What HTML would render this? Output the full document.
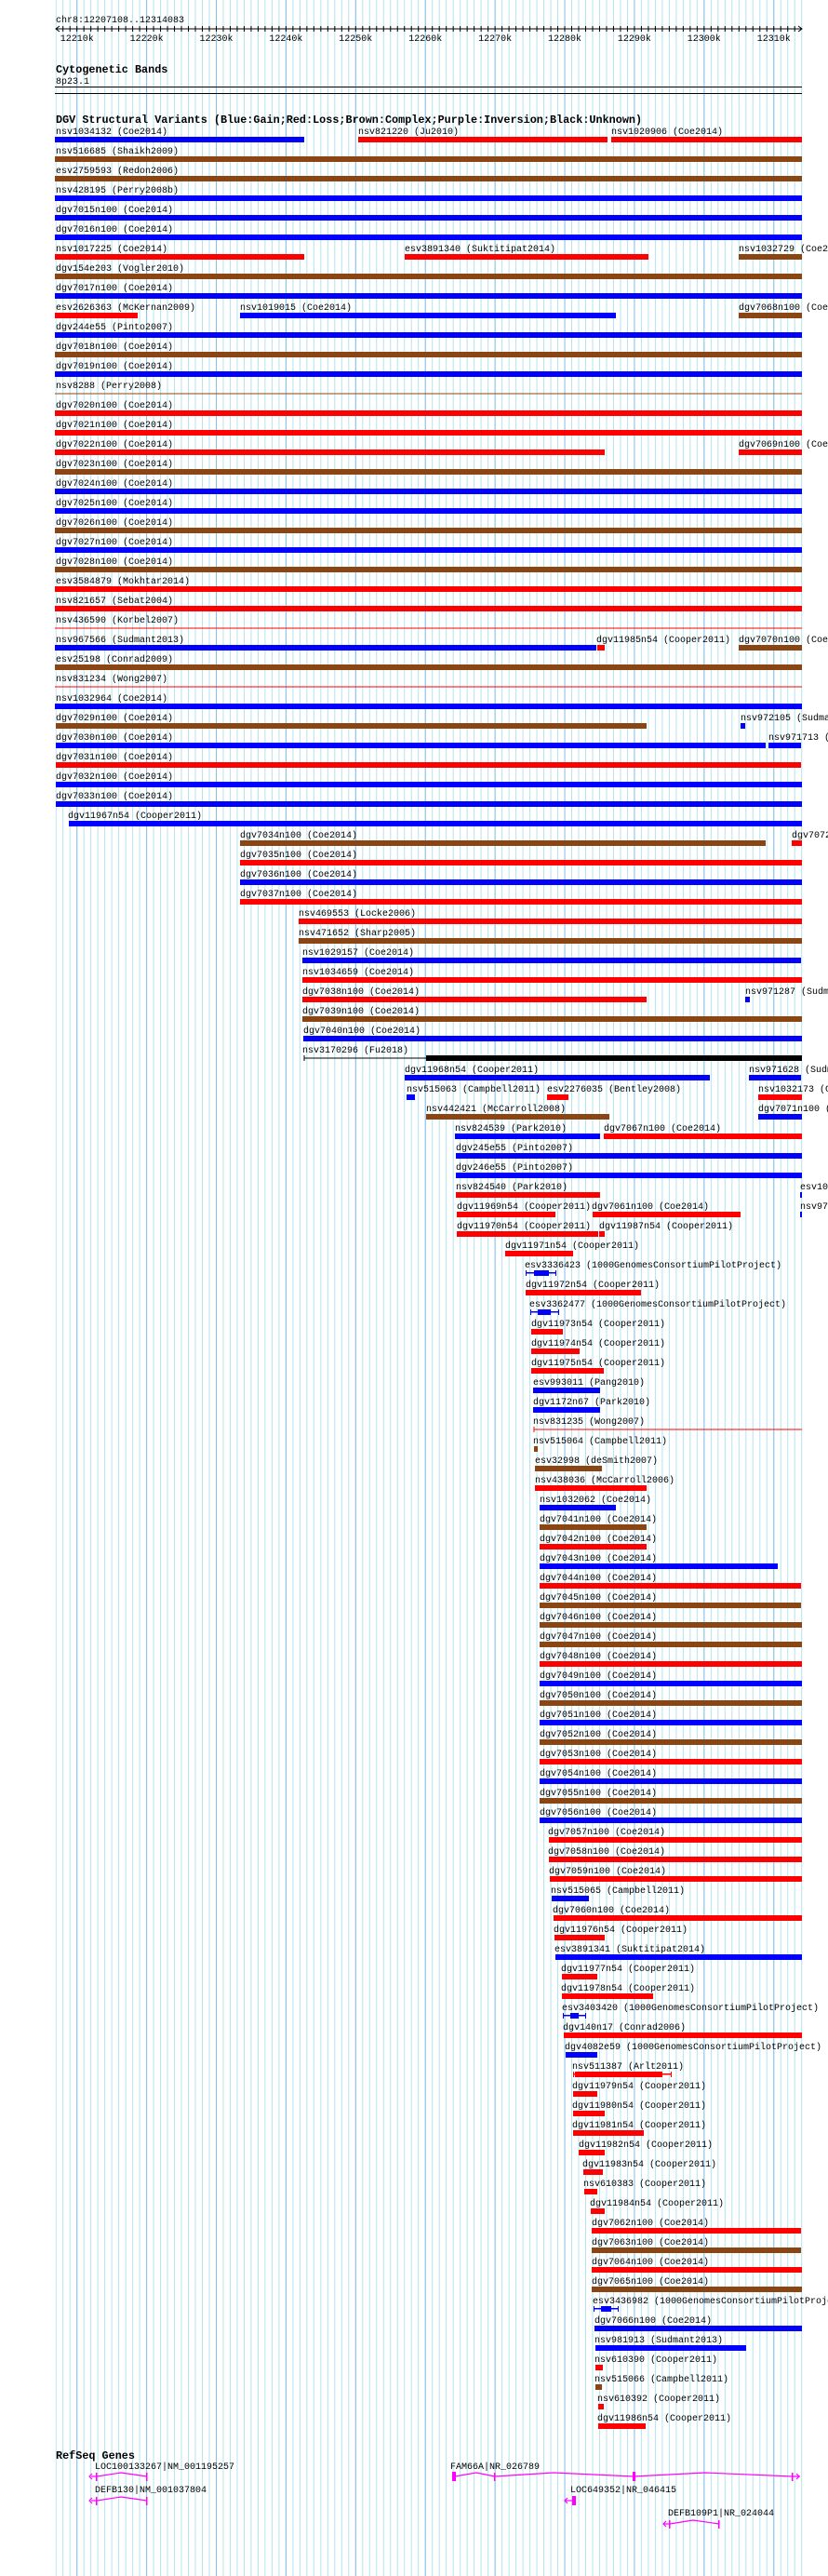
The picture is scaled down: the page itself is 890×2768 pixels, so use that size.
<!DOCTYPE html>
<html><head><meta charset="utf-8"><style>
html,body{margin:0;padding:0;background:#fff;}
svg{display:block;}
text{font-family:"Liberation Mono",monospace;font-size:10px;fill:#000;}
.h{font-weight:bold;font-size:11.8px;}
.b{fill:#0000ff}.r{fill:#ff0000}.n{fill:#8b4513}.k{fill:#000}
.g{stroke:#ff00ff;fill:none;stroke-width:1.2}
.gf{fill:#ff00ff}
</style></head><body>
<svg width="890" height="2768" viewBox="0 0 890 2768" xmlns="http://www.w3.org/2000/svg">
<defs>
<pattern id="mi" patternUnits="userSpaceOnUse" x="59.7" y="0" width="7.4907" height="10"><rect x="0" y="0" width="1" height="10" fill="#b3e3ef"/></pattern>
<pattern id="ma" patternUnits="userSpaceOnUse" x="82.2" y="0" width="74.907" height="10"><rect x="0" y="0" width="1" height="10" fill="#84c0ea"/></pattern>
<pattern id="tk" patternUnits="userSpaceOnUse" x="59.7" y="28" width="7.4907" height="6"><rect x="0" y="0" width="1" height="6" fill="#000"/></pattern>
</defs>
<rect x="59.7" y="0" width="803" height="2768" fill="url(#mi)"/>
<rect x="59" y="0" width="804" height="2768" fill="url(#ma)"/>

<!-- ruler -->
<text x="60" y="24">chr8:12207108..12314083</text>
<rect x="60" y="30.5" width="802" height="1" fill="#000"/>
<rect x="62" y="28" width="799" height="6" fill="url(#tk)"/>
<path d="M64 28 L60 31 L64 34 M858 28 L862 31 L858 34" stroke="#000" fill="none"/>
<g text-anchor="middle">
<text x="82.7" y="44">12210k</text><text x="157.6" y="44">12220k</text><text x="232.5" y="44">12230k</text><text x="307.4" y="44">12240k</text><text x="382.3" y="44">12250k</text><text x="457.2" y="44">12260k</text><text x="532.1" y="44">12270k</text><text x="607" y="44">12280k</text><text x="681.9" y="44">12290k</text><text x="756.8" y="44">12300k</text><text x="831.7" y="44">12310k</text>
</g>

<text class="h" x="60" y="78">Cytogenetic Bands</text>
<text x="60" y="90">8p23.1</text>
<rect x="59" y="93" width="803" height="1" fill="#000"/>
<rect x="59" y="100" width="803" height="1" fill="#000"/>

<text class="h" x="60" y="132">DGV Structural Variants (Blue:Gain;Red:Loss;Brown:Complex;Purple:Inversion;Black:Unknown)</text>

<!-- rows -->
<text x="60" y="144">nsv1034132 (Coe2014)</text><rect class="b" x="59" y="147" width="268" height="6"/>
<text x="385" y="144">nsv821220 (Ju2010)</text><rect class="r" x="385" y="147" width="268" height="6"/>
<text x="657" y="144">nsv1020906 (Coe2014)</text><rect class="r" x="657" y="147" width="205" height="6"/>

<text x="60" y="165">nsv516685 (Shaikh2009)</text><rect class="n" x="59" y="168" width="803" height="6"/>
<text x="60" y="186">esv2759593 (Redon2006)</text><rect class="n" x="59" y="189" width="803" height="6"/>
<text x="60" y="207">nsv428195 (Perry2008b)</text><rect class="b" x="59" y="210" width="803" height="6"/>
<text x="60" y="228">dgv7015n100 (Coe2014)</text><rect class="b" x="59" y="231" width="803" height="6"/>
<text x="60" y="249">dgv7016n100 (Coe2014)</text><rect class="b" x="59" y="252" width="803" height="6"/>

<text x="60" y="270">nsv1017225 (Coe2014)</text><rect class="r" x="59" y="273" width="268" height="6"/>
<text x="435" y="270">esv3891340 (Suktitipat2014)</text><rect class="r" x="435" y="273" width="262" height="6"/>
<text x="794" y="270">nsv1032729 (Coe2014)</text><rect class="n" x="794" y="273" width="68" height="6"/>

<text x="60" y="291">dgv154e203 (Vogler2010)</text><rect class="n" x="59" y="294" width="803" height="6"/>
<text x="60" y="312">dgv7017n100 (Coe2014)</text><rect class="b" x="59" y="315" width="803" height="6"/>

<text x="60" y="333">esv2626363 (McKernan2009)</text><rect class="r" x="59" y="336" width="89" height="6"/>
<text x="258" y="333">nsv1019015 (Coe2014)</text><rect class="b" x="258" y="336" width="404" height="6"/>
<text x="794" y="333">dgv7068n100 (Coe2014)</text><rect class="n" x="794" y="336" width="68" height="6"/>

<text x="60" y="354">dgv244e55 (Pinto2007)</text><rect class="b" x="59" y="357" width="803" height="6"/>
<text x="60" y="375">dgv7018n100 (Coe2014)</text><rect class="n" x="59" y="378" width="803" height="6"/>
<text x="60" y="396">dgv7019n100 (Coe2014)</text><rect class="b" x="59" y="399" width="803" height="6"/>
<text x="60" y="417">nsv8288 (Perry2008)</text><rect class="n" x="59" y="422.5" width="803" height="1"/>
<text x="60" y="438">dgv7020n100 (Coe2014)</text><rect class="r" x="59" y="441" width="803" height="6"/>
<text x="60" y="459">dgv7021n100 (Coe2014)</text><rect class="r" x="59" y="462" width="803" height="6"/>

<text x="60" y="480">dgv7022n100 (Coe2014)</text><rect class="r" x="59" y="483" width="591" height="6"/>
<text x="794" y="480">dgv7069n100 (Coe2014)</text><rect class="r" x="794" y="483" width="68" height="6"/>

<text x="60" y="501">dgv7023n100 (Coe2014)</text><rect class="n" x="59" y="504" width="803" height="6"/>
<text x="60" y="522">dgv7024n100 (Coe2014)</text><rect class="b" x="59" y="525" width="803" height="6"/>
<text x="60" y="543">dgv7025n100 (Coe2014)</text><rect class="b" x="59" y="546" width="803" height="6"/>
<text x="60" y="564">dgv7026n100 (Coe2014)</text><rect class="n" x="59" y="567" width="803" height="6"/>
<text x="60" y="585">dgv7027n100 (Coe2014)</text><rect class="b" x="59" y="588" width="803" height="6"/>
<text x="60" y="606">dgv7028n100 (Coe2014)</text><rect class="n" x="59" y="609" width="803" height="6"/>
<text x="60" y="627">esv3584879 (Mokhtar2014)</text><rect class="r" x="59" y="630" width="803" height="6"/>
<text x="60" y="648">nsv821657 (Sebat2004)</text><rect class="r" x="59" y="651" width="803" height="6"/>
<text x="60" y="669">nsv436590 (Korbel2007)</text><rect class="r" x="59" y="674.5" width="803" height="1"/>

<text x="60" y="690">nsv967566 (Sudmant2013)</text><rect class="b" x="59" y="693" width="582" height="6"/>
<text x="641" y="690">dgv11985n54 (Cooper2011)</text><rect class="r" x="642" y="693" width="8" height="6"/>
<text x="794" y="690">dgv7070n100 (Coe2014)</text><rect class="n" x="794" y="693" width="68" height="6"/>

<text x="60" y="711">esv25198 (Conrad2009)</text><rect class="n" x="59" y="714" width="803" height="6"/>
<text x="60" y="732">nsv831234 (Wong2007)</text><rect class="r" x="59" y="737.5" width="803" height="1"/>
<text x="60" y="753">nsv1032964 (Coe2014)</text><rect class="b" x="59" y="756" width="803" height="6"/>

<text x="60" y="774">dgv7029n100 (Coe2014)</text><rect class="n" x="60" y="777" width="635" height="6"/>
<text x="796" y="774">nsv972105 (Sudmant2013)</text><rect class="b" x="796" y="777" width="5" height="6"/>

<text x="60" y="795">dgv7030n100 (Coe2014)</text><rect class="b" x="60" y="798" width="763" height="6"/>
<text x="826" y="795">nsv971713 (Sudmant2013)</text><rect class="b" x="826" y="798" width="35" height="6"/>

<text x="60" y="816">dgv7031n100 (Coe2014)</text><rect class="r" x="60" y="819" width="801" height="6"/>
<text x="60" y="837">dgv7032n100 (Coe2014)</text><rect class="b" x="60" y="840" width="802" height="6"/>
<text x="60" y="858">dgv7033n100 (Coe2014)</text><rect class="b" x="60" y="861" width="802" height="6"/>
<text x="73" y="879">dgv11967n54 (Cooper2011)</text><rect class="b" x="74" y="882" width="788" height="6"/>

<text x="258" y="900">dgv7034n100 (Coe2014)</text><rect class="n" x="258" y="903" width="565" height="6"/>
<text x="851" y="900">dgv7072n100 (Coe2014)</text><rect class="r" x="851" y="903" width="11" height="6"/>

<text x="258" y="921">dgv7035n100 (Coe2014)</text><rect class="r" x="258" y="924" width="604" height="6"/>
<text x="258" y="942">dgv7036n100 (Coe2014)</text><rect class="b" x="258" y="945" width="604" height="6"/>
<text x="258" y="963">dgv7037n100 (Coe2014)</text><rect class="r" x="258" y="966" width="604" height="6"/>
<text x="321" y="984">nsv469553 (Locke2006)</text><rect class="r" x="321" y="987" width="541" height="6"/>
<text x="321" y="1005">nsv471652 (Sharp2005)</text><rect class="n" x="321" y="1008" width="541" height="6"/>
<text x="325" y="1026">nsv1029157 (Coe2014)</text><rect class="b" x="325" y="1029" width="536" height="6"/>
<text x="325" y="1047">nsv1034659 (Coe2014)</text><rect class="r" x="325" y="1050" width="537" height="6"/>

<text x="325" y="1068">dgv7038n100 (Coe2014)</text><rect class="r" x="325" y="1071" width="370" height="6"/>
<text x="801" y="1068">nsv971287 (Sudmant2013)</text><rect class="b" x="801" y="1071" width="5" height="6"/>

<text x="325" y="1089">dgv7039n100 (Coe2014)</text><rect class="n" x="325" y="1092" width="537" height="6"/>
<text x="326" y="1110">dgv7040n100 (Coe2014)</text><rect class="b" x="326" y="1113" width="536" height="6"/>

<text x="325" y="1131">nsv3170296 (Fu2018)</text><rect class="k" x="327" y="1136.5" width="131" height="1"/><rect class="k" x="326.5" y="1134" width="1" height="6"/><rect class="k" x="458" y="1134" width="404" height="6"/>

<text x="435" y="1152">dgv11968n54 (Cooper2011)</text><rect class="b" x="435" y="1155" width="328" height="6"/>
<text x="805" y="1152">nsv971628 (Sudmant2013)</text><rect class="b" x="805" y="1155" width="56" height="6"/>

<text x="437" y="1173">nsv515063 (Campbell2011)</text><rect class="b" x="437" y="1176" width="9" height="6"/>
<text x="588" y="1173">esv2276035 (Bentley2008)</text><rect class="r" x="588" y="1176" width="23" height="6"/>
<text x="815" y="1173">nsv1032173 (Coe2014)</text><rect class="r" x="815" y="1176" width="47" height="6"/>

<text x="458" y="1194">nsv442421 (McCarroll2008)</text><rect class="n" x="458" y="1197" width="197" height="6"/>
<text x="815" y="1194">dgv7071n100 (Coe2014)</text><rect class="b" x="815" y="1197" width="47" height="6"/>

<text x="489" y="1215">nsv824539 (Park2010)</text><rect class="b" x="489" y="1218" width="156" height="6"/>
<text x="649" y="1215">dgv7067n100 (Coe2014)</text><rect class="r" x="649" y="1218" width="213" height="6"/>

<text x="490" y="1236">dgv245e55 (Pinto2007)</text><rect class="b" x="490" y="1239" width="372" height="6"/>
<text x="490" y="1257">dgv246e55 (Pinto2007)</text><rect class="b" x="490" y="1260" width="372" height="6"/>

<text x="490" y="1278">nsv824540 (Park2010)</text><rect class="r" x="490" y="1281" width="155" height="6"/>
<text x="860" y="1278">esv1032174 (Coe2014)</text><rect class="b" x="860" y="1281" width="2" height="6"/>

<text x="491" y="1299">dgv11969n54 (Cooper2011)</text><rect class="r" x="491" y="1302" width="106" height="6"/>
<text x="636" y="1299">dgv7061n100 (Coe2014)</text><rect class="r" x="637" y="1302" width="159" height="6"/>
<text x="860" y="1299">nsv971000 (Sudmant2013)</text><rect class="b" x="860" y="1302" width="2" height="6"/>

<text x="491" y="1320">dgv11970n54 (Cooper2011)</text><rect class="r" x="491" y="1323" width="152" height="6"/>
<text x="644" y="1320">dgv11987n54 (Cooper2011)</text><rect class="r" x="644" y="1323" width="6" height="6"/>

<text x="543" y="1341">dgv11971n54 (Cooper2011)</text><rect class="r" x="543" y="1344" width="73" height="6"/>

<text x="564" y="1362">esv3336423 (1000GenomesConsortiumPilotProject)</text><rect class="b" x="565" y="1367" width="33" height="1.5"/><rect class="b" x="565" y="1365" width="1" height="6"/><rect class="b" x="597" y="1365" width="1" height="6"/><rect class="b" x="574" y="1365" width="16" height="6"/>

<text x="565" y="1383">dgv11972n54 (Cooper2011)</text><rect class="r" x="565" y="1386" width="124" height="6"/>

<text x="569" y="1404">esv3362477 (1000GenomesConsortiumPilotProject)</text><rect class="b" x="570" y="1409" width="31" height="1.5"/><rect class="b" x="570" y="1407" width="1" height="6"/><rect class="b" x="600" y="1407" width="1" height="6"/><rect class="b" x="578" y="1407" width="14" height="6"/>

<text x="571" y="1425">dgv11973n54 (Cooper2011)</text><rect class="r" x="571" y="1428" width="34" height="6"/>
<text x="571" y="1446">dgv11974n54 (Cooper2011)</text><rect class="r" x="571" y="1449" width="52" height="6"/>
<text x="571" y="1467">dgv11975n54 (Cooper2011)</text><rect class="r" x="571" y="1470" width="78" height="6"/>
<text x="573" y="1488">esv993011 (Pang2010)</text><rect class="b" x="573" y="1491" width="72" height="6"/>
<text x="573" y="1509">dgv1172n67 (Park2010)</text><rect class="b" x="573" y="1512" width="72" height="6"/>
<text x="573" y="1530">nsv831235 (Wong2007)</text><rect class="r" x="574" y="1535.5" width="288" height="1"/><rect class="r" x="573.5" y="1533" width="1" height="6"/>
<text x="573" y="1551">nsv515064 (Campbell2011)</text><rect class="n" x="574" y="1554" width="4" height="6"/>
<text x="575" y="1572">esv32998 (deSmith2007)</text><rect class="n" x="575" y="1575" width="72" height="6"/>
<text x="575" y="1593">nsv438036 (McCarroll2006)</text><rect class="r" x="575" y="1596" width="120" height="6"/>
<text x="580" y="1614">nsv1032062 (Coe2014)</text><rect class="b" x="580" y="1617" width="82" height="6"/>
<text x="580" y="1635">dgv7041n100 (Coe2014)</text><rect class="n" x="580" y="1638" width="115" height="6"/>
<text x="580" y="1656">dgv7042n100 (Coe2014)</text><rect class="r" x="580" y="1659" width="115" height="6"/>
<text x="580" y="1677">dgv7043n100 (Coe2014)</text><rect class="b" x="580" y="1680" width="256" height="6"/>
<text x="580" y="1698">dgv7044n100 (Coe2014)</text><rect class="r" x="580" y="1701" width="281" height="6"/>
<text x="580" y="1719">dgv7045n100 (Coe2014)</text><rect class="n" x="580" y="1722" width="281" height="6"/>
<text x="580" y="1740">dgv7046n100 (Coe2014)</text><rect class="n" x="580" y="1743" width="282" height="6"/>
<text x="580" y="1761">dgv7047n100 (Coe2014)</text><rect class="n" x="580" y="1764" width="282" height="6"/>
<text x="580" y="1782">dgv7048n100 (Coe2014)</text><rect class="r" x="580" y="1785" width="282" height="6"/>
<text x="580" y="1803">dgv7049n100 (Coe2014)</text><rect class="b" x="580" y="1806" width="282" height="6"/>
<text x="580" y="1824">dgv7050n100 (Coe2014)</text><rect class="n" x="580" y="1827" width="282" height="6"/>
<text x="580" y="1845">dgv7051n100 (Coe2014)</text><rect class="b" x="580" y="1848" width="282" height="6"/>
<text x="580" y="1866">dgv7052n100 (Coe2014)</text><rect class="n" x="580" y="1869" width="282" height="6"/>
<text x="580" y="1887">dgv7053n100 (Coe2014)</text><rect class="r" x="580" y="1890" width="282" height="6"/>
<text x="580" y="1908">dgv7054n100 (Coe2014)</text><rect class="b" x="580" y="1911" width="282" height="6"/>
<text x="580" y="1929">dgv7055n100 (Coe2014)</text><rect class="n" x="580" y="1932" width="282" height="6"/>
<text x="580" y="1950">dgv7056n100 (Coe2014)</text><rect class="b" x="580" y="1953" width="282" height="6"/>
<text x="589" y="1971">dgv7057n100 (Coe2014)</text><rect class="r" x="590" y="1974" width="272" height="6"/>
<text x="589" y="1992">dgv7058n100 (Coe2014)</text><rect class="r" x="590" y="1995" width="272" height="6"/>
<text x="590" y="2013">dgv7059n100 (Coe2014)</text><rect class="r" x="591" y="2016" width="271" height="6"/>
<text x="592" y="2034">nsv515065 (Campbell2011)</text><rect class="b" x="593" y="2037" width="40" height="6"/>
<text x="594" y="2055">dgv7060n100 (Coe2014)</text><rect class="r" x="595" y="2058" width="267" height="6"/>
<text x="595" y="2076">dgv11976n54 (Cooper2011)</text><rect class="r" x="596" y="2079" width="54" height="6"/>
<text x="596" y="2097">esv3891341 (Suktitipat2014)</text><rect class="b" x="597" y="2100" width="265" height="6"/>
<text x="603" y="2118">dgv11977n54 (Cooper2011)</text><rect class="r" x="604" y="2121" width="38" height="6"/>
<text x="603" y="2139">dgv11978n54 (Cooper2011)</text><rect class="r" x="604" y="2142" width="98" height="6"/>
<text x="604" y="2160">esv3403420 (1000GenomesConsortiumPilotProject)</text><rect class="b" x="605" y="2165" width="25" height="1.5"/><rect class="b" x="605" y="2163" width="1" height="6"/><rect class="b" x="629" y="2163" width="1" height="6"/><rect class="b" x="613" y="2163" width="9" height="6"/>
<text x="605" y="2181">dgv140n17 (Conrad2006)</text><rect class="r" x="606" y="2184" width="256" height="6"/>
<text x="607" y="2202">dgv4082e59 (1000GenomesConsortiumPilotProject)</text><rect class="b" x="608" y="2205" width="34" height="6"/>
<text x="615" y="2223">nsv511387 (Arlt2011)</text><rect class="r" x="616" y="2228" width="106" height="1.5"/><rect class="r" x="616" y="2226" width="1" height="6"/><rect class="r" x="721" y="2226" width="1" height="6"/><rect class="r" x="618" y="2226" width="94" height="6"/>
<text x="615" y="2244">dgv11979n54 (Cooper2011)</text><rect class="r" x="616" y="2247" width="26" height="6"/>
<text x="615" y="2265">dgv11980n54 (Cooper2011)</text><rect class="r" x="616" y="2268" width="34" height="6"/>
<text x="615" y="2286">dgv11981n54 (Cooper2011)</text><rect class="r" x="616" y="2289" width="76" height="6"/>
<text x="622" y="2307">dgv11982n54 (Cooper2011)</text><rect class="r" x="622" y="2310" width="28" height="6"/>
<text x="626" y="2328">dgv11983n54 (Cooper2011)</text><rect class="r" x="627" y="2331" width="21" height="6"/>
<text x="627" y="2349">nsv610383 (Cooper2011)</text><rect class="r" x="628" y="2352" width="14" height="6"/>
<text x="634" y="2370">dgv11984n54 (Cooper2011)</text><rect class="r" x="635" y="2373" width="15" height="6"/>
<text x="636" y="2391">dgv7062n100 (Coe2014)</text><rect class="r" x="636" y="2394" width="225" height="6"/>
<text x="636" y="2412">dgv7063n100 (Coe2014)</text><rect class="n" x="636" y="2415" width="225" height="6"/>
<text x="636" y="2433">dgv7064n100 (Coe2014)</text><rect class="r" x="636" y="2436" width="226" height="6"/>
<text x="636" y="2454">dgv7065n100 (Coe2014)</text><rect class="n" x="636" y="2457" width="226" height="6"/>
<text x="637" y="2475">esv3436982 (1000GenomesConsortiumPilotProject)</text><rect class="b" x="638" y="2480" width="27" height="1.5"/><rect class="b" x="638" y="2478" width="1" height="6"/><rect class="b" x="664" y="2478" width="1" height="6"/><rect class="b" x="646" y="2478" width="11" height="6"/>
<text x="639" y="2496">dgv7066n100 (Coe2014)</text><rect class="b" x="639" y="2499" width="223" height="6"/>
<text x="639" y="2517">nsv981913 (Sudmant2013)</text><rect class="b" x="640" y="2520" width="162" height="6"/>
<text x="639" y="2538">nsv610390 (Cooper2011)</text><rect class="r" x="640" y="2541" width="8" height="6"/>
<text x="639" y="2559">nsv515066 (Campbell2011)</text><rect class="n" x="640" y="2562" width="7" height="6"/>
<text x="642" y="2580">nsv610392 (Cooper2011)</text><rect class="r" x="643" y="2583" width="6" height="6"/>
<text x="642" y="2601">dgv11986n54 (Cooper2011)</text><rect class="r" x="643" y="2604" width="51" height="6"/>

<!-- RefSeq genes -->
<text class="h" x="60" y="2642">RefSeq Genes</text>
<text x="102" y="2653">LOC100133267|NM_001195257</text>
<path class="g" d="M98 2661 L104 2661 L130 2657 L158 2661 M99 2658 L96 2661 L99 2664"/>
<rect class="gf" x="103" y="2657" width="1.5" height="9"/><rect class="gf" x="157" y="2657" width="1.5" height="9"/>

<text x="102" y="2678">DEFB130|NM_001037804</text>
<path class="g" d="M98 2687 L104 2687 L130 2683 L158 2687 M99 2684 L96 2687 L99 2690"/>
<rect class="gf" x="103" y="2683" width="1.5" height="9"/><rect class="gf" x="157" y="2683" width="1.5" height="9"/>

<text x="484" y="2653">FAM66A|NR_026789</text>
<path class="g" d="M489 2661 L512 2657 L532 2661 L595 2657 L681 2661 L758 2657 L852 2661 L860 2661 M856 2658 L859 2661 L856 2664"/>
<rect class="gf" x="486" y="2656" width="4" height="10"/><rect class="gf" x="531" y="2657" width="1.5" height="9"/><rect class="gf" x="680" y="2656" width="3" height="10"/><rect class="gf" x="851" y="2657" width="1.5" height="9"/>

<text x="613" y="2678">LOC649352|NR_046415</text>
<path class="g" d="M607 2687 L616 2687 M610 2684 L607 2687 L610 2690"/>
<rect class="gf" x="615" y="2682" width="4" height="10"/>

<text x="718" y="2703">DEFB109P1|NR_024044</text>
<path class="g" d="M713 2712 L720 2712 L745 2708 L773 2712 M716 2709 L713 2712 L716 2715"/>
<rect class="gf" x="719" y="2708" width="1.5" height="9"/><rect class="gf" x="772" y="2708" width="1.5" height="9"/>
</svg>
</body></html>
